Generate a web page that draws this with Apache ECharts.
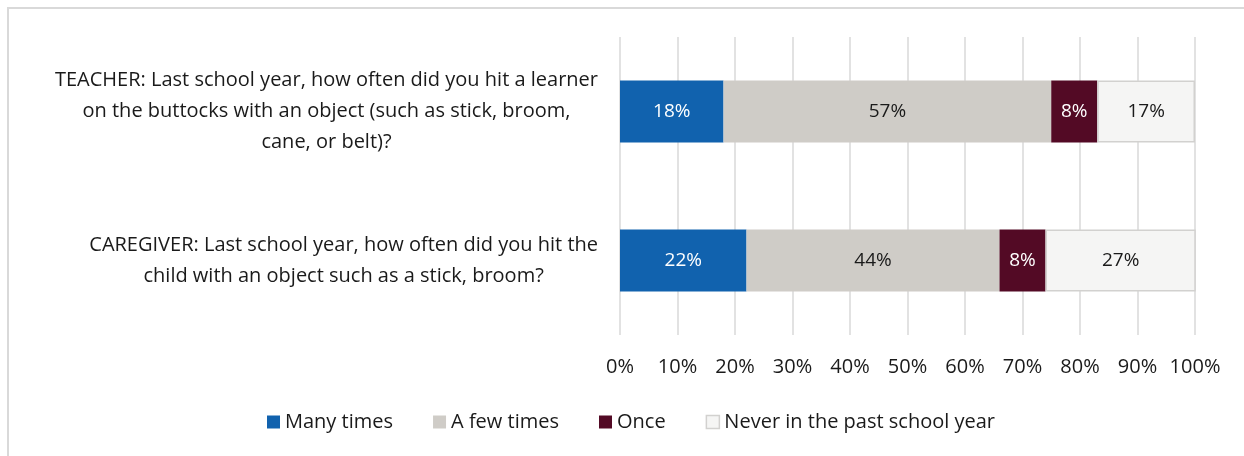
<!DOCTYPE html>
<html>
<head>
<meta charset="utf-8">
<script src="https://cdn.jsdelivr.net/npm/echarts@6/dist/echarts.min.js"></script>
<style>
  html, body { margin: 0; padding: 0; background: #ffffff; }
  #chart { width: 1244px; height: 456px; }
</style>
</head>
<body>
<div id="chart"></div>
<script>
// Survey questions (one bar each), top to bottom
const questions = [
  'TEACHER: Last school year, how often did you hit a learner\non the buttocks with an object (such as stick, broom,\ncane, or belt)?',
  'CAREGIVER: Last school year, how often did you hit the\nchild with an object such as a stick, broom?'
];

// Response categories and their shares (%)
const responses = ['Many times', 'A few times', 'Once', 'Never in the past school year'];
const manyTimes = [18, 22];
const fewTimes  = [57, 44];
const once      = [8, 8];
const never     = [17, 27];

const percentTicks = [0, 10, 20, 30, 40, 50, 60, 70, 80, 90, 100];

const FONT = '"Open Sans"';
const SIZE = 20;
const fills = ['#1162AE', '#CFCCC7', '#530A25', '#F5F5F4'];
const labelInk = ['#ffffff', '#1a1a1a', '#ffffff', '#1a1a1a'];
const values = [manyTimes, fewTimes, once, never];

const chart = echarts.init(document.getElementById('chart'), null, { renderer: 'canvas' });

const series = responses.map((name, i) => ({
  name: name,
  type: 'bar',
  stack: 'share',
  barWidth: 62,
  data: values[i],
  itemStyle: {
    color: fills[i],
    borderColor: i === 3 ? '#D2D1CF' : fills[i],
    borderWidth: i === 3 ? 1.5 : 0
  },
  label: {
    show: true,
    position: 'inside',
    formatter: '{c}%',
    color: labelInk[i],
    fontFamily: FONT,
    fontSize: 19
  },
  emphasis: { disabled: true }
}));

chart.setOption({
  animation: false,
  backgroundColor: '#ffffff',
  graphic: [{
    type: 'rect',
    shape: { x: 8, y: 8, width: 1250, height: 460 },
    style: { fill: null, stroke: '#D9D9D9', lineWidth: 2 },
    silent: true,
    z: -1
  }],
  grid: { left: 620, right: 49, top: 37, bottom: 121, containLabel: false },
  legend: {
    left: 262,
    top: 407,
    itemWidth: 13,
    itemHeight: 13,
    itemGap: 40,
    icon: 'rect',
    textStyle: { fontFamily: FONT, fontSize: SIZE, color: '#1a1a1a' },
    data: responses.map((r, i) => ({
      name: r,
      itemStyle: i === 3 ? { borderColor: '#D2D1CF', borderWidth: 1.5 } : { borderWidth: 0 }
    }))
  },
  xAxis: {
    type: 'value',
    min: percentTicks[0],
    max: percentTicks[percentTicks.length - 1],
    interval: 10,
    axisLine: { show: false },
    axisTick: { show: false },
    splitLine: { show: true, lineStyle: { color: '#D9D9D9', width: 1.5 } },
    axisLabel: {
      formatter: '{value}%',
      fontFamily: FONT,
      fontSize: SIZE,
      color: '#1a1a1a',
      margin: 22
    }
  },
  yAxis: {
    type: 'category',
    inverse: true,
    data: questions,
    axisLine: { show: false },
    axisTick: { show: false },
    axisLabel: {
      align: 'right',
      margin: 22,
      fontFamily: FONT,
      fontSize: SIZE,
      color: '#1a1a1a',
      lineHeight: 31,
      formatter: v => v.split('\n').map(line => '{c|' + line + '}').join('\n'),
      rich: {
        c: { align: 'center', fontFamily: FONT, fontSize: SIZE, color: '#1a1a1a', lineHeight: 31 }
      }
    }
  },
  series: series
});
</script>
</body>
</html>
